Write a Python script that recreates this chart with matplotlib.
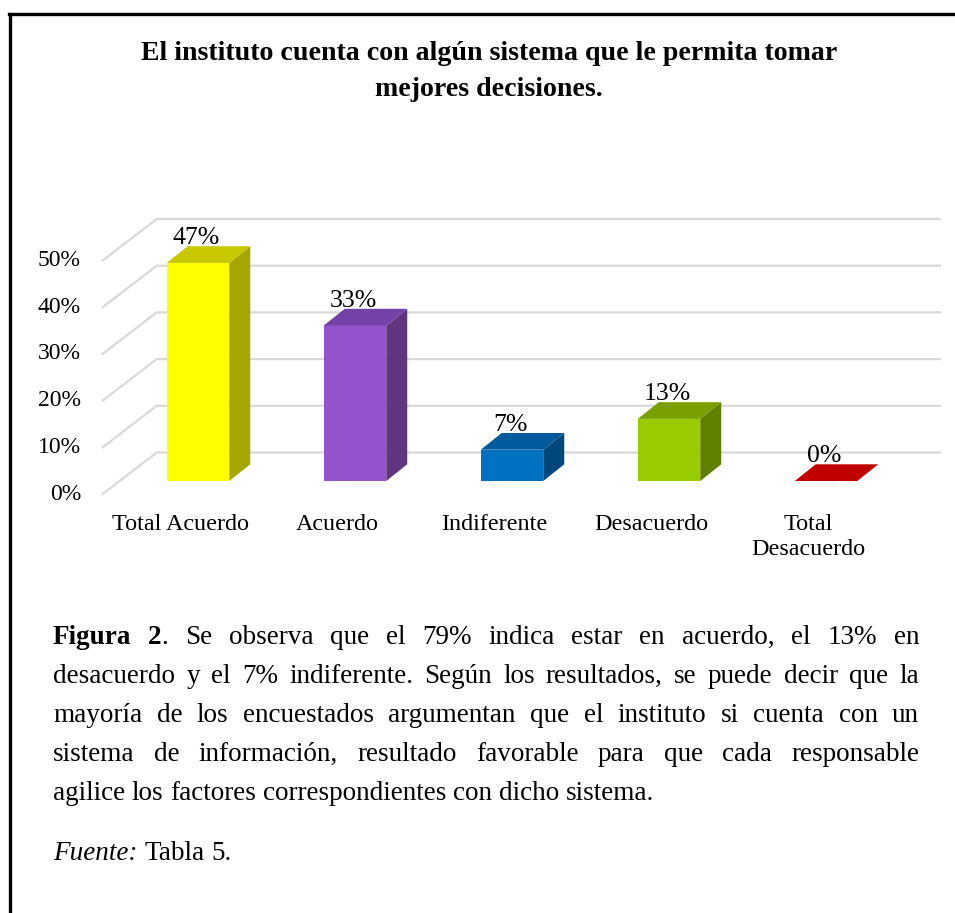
import matplotlib
matplotlib.use("Agg")
import matplotlib.pyplot as plt
from matplotlib.patches import Polygon
from matplotlib.lines import Line2D

# data
categories = ["Total Acuerdo", "Acuerdo", "Indiferente", "Desacuerdo", "Total\nDesacuerdo"]
values = [46.7, 33.3, 6.7, 13.3, 0.0]
ticks = [0, 10, 20, 30, 40, 50]

front_colors = ["#FFFF00", "#9452CC", "#0070C0", "#99CC00", "#C00000"]
side_colors = ["#A6A600", "#62357F", "#00487C", "#608000", "#8A0000"]
top_colors = ["#C8C800", "#7442A6", "#005A9C", "#78A000", "#C00000"]

title_lines = ["El instituto cuenta con algún sistema que le permita tomar",
               "mejores decisiones."]

caption_lines = [
    [[("Figura", "bold")], [("2", "bold"), (".", "normal")], "Se", "observa", "que", "el",
     "79%", "indica", "estar", "en", "acuerdo,", "el", "13%", "en"],
    "desacuerdo y el 7% indiferente. Según los resultados, se puede decir que la".split(),
    "mayoría de los encuestados argumentan que el instituto si cuenta con un".split(),
    "sistema de información, resultado favorable para que cada responsable".split(),
    "agilice los factores correspondientes con dicho sistema.".split(),
]
source_line = [[("Fuente:", "italic")], "Tabla", "5."]

W_PX, H_PX = 955, 913
SERIF = "Liberation Serif"

# geometry of the pseudo 3d chart (pixels)
PX_CAT = 157.0
X0_PX = 198.0
PX_PCT = 4.67
Y0_PX = 481.0

BAR_W = 62.5 / PX_CAT
DX = 21.0 / PX_CAT
DY = 16.7 / PX_PCT
BACK_X = (156.7 - X0_PX) / PX_CAT
BACK_DY = 28.5 / PX_PCT
FRONT_X = (102.7 - X0_PX) / PX_CAT
FRONT_DY = -13.0 / PX_PCT
GRID_END = (940 - X0_PX) / PX_CAT
TICK_X = (81 - X0_PX) / PX_CAT

fig = plt.figure(figsize=(W_PX / 100, H_PX / 100), dpi=100)
ax = fig.add_axes([0, 0, 1, 1])
ax.set_xlim(-X0_PX / PX_CAT, (W_PX - X0_PX) / PX_CAT)
ax.set_ylim((Y0_PX - H_PX) / PX_PCT, Y0_PX / PX_PCT)
ax.axis("off")

grid_c = "#D9D9D9"
for t in ticks:
    ax.plot([FRONT_X, BACK_X, GRID_END], [t + FRONT_DY, t + BACK_DY, t + BACK_DY],
            color=grid_c, lw=1.6, zorder=1)
    ax.text(TICK_X, t + FRONT_DY, f"{t}%", ha="right", va="center",
            fontsize=17, family=SERIF, color="#000000")

xs = list(range(len(categories)))
ax.bar(xs, values, width=BAR_W, color=front_colors, zorder=3, linewidth=0)

for i, v in enumerate(values):
    l, r = i - BAR_W / 2, i + BAR_W / 2
    side = [(r, 0), (r + DX, DY), (r + DX, v + DY), (r, v)]
    top = [(l, v), (r, v), (r + DX, v + DY), (l + DX, v + DY)]
    if v > 0:
        ax.add_patch(Polygon(side, closed=True, fc=side_colors[i], ec="none", zorder=3))
    ax.add_patch(Polygon(top, closed=True, fc=top_colors[i], ec="none", zorder=3))
    ax.text(i - 0.01, v + DY + 0.4, f"{v:.0f}%", ha="center", va="baseline",
            fontsize=18.5, family=SERIF, zorder=4)
    ax.text(i - 0.11, -7.0, categories[i], ha="center", va="top", fontsize=17.4,
            family=SERIF, linespacing=1.3)


def fx(px):
    return px / W_PX


def fy(py):
    return 1 - py / H_PX


# frame
fig.add_artist(Line2D([fx(10), fx(10)], [fy(14), 0], color="black", lw=2.4))
fig.add_artist(Line2D([fx(9), 1], [fy(14), fy(14)], color="black", lw=2.4))

for k, line in enumerate(title_lines):
    fig.text(fx(489), fy(60 + 36 * k), line, ha="center", va="baseline",
             fontsize=20.1, fontweight="bold", family=SERIF)

renderer = fig.canvas.get_renderer()
CAP_FS = 19.5


def pieces(word):
    if isinstance(word, str):
        return [(word, "normal")]
    return word


def style_kw(style):
    kw = dict(fontsize=CAP_FS, family=SERIF)
    if style == "bold":
        kw["fontweight"] = "bold"
    if style == "italic":
        kw["fontstyle"] = "italic"
    return kw


def draw_line(words, y, left, right, justify):
    widths = []
    for w in words:
        tmp = []
        for text, style in pieces(w):
            t = fig.text(0, 0, text, **style_kw(style))
            tmp.append(t.get_window_extent(renderer).width)
            t.remove()
        widths.append(tmp)
    if justify and len(words) > 1:
        gap = (right - left - sum(sum(w) for w in widths)) / (len(words) - 1)
    else:
        gap = CAP_FS * 100 / 72 * 0.25
    x = left
    for w, ws in zip(words, widths):
        for (text, style), pw in zip(pieces(w), ws):
            fig.text(fx(x), fy(y), text, ha="left", va="baseline", **style_kw(style))
            x += pw
        x += gap


CAP_L, CAP_R = 53, 919
for k, line in enumerate(caption_lines):
    draw_line(line, 644 + 39 * k, CAP_L, CAP_R, k < len(caption_lines) - 1)
draw_line(source_line, 860, CAP_L, CAP_R, False)

fig.savefig("out.png", dpi=100)
